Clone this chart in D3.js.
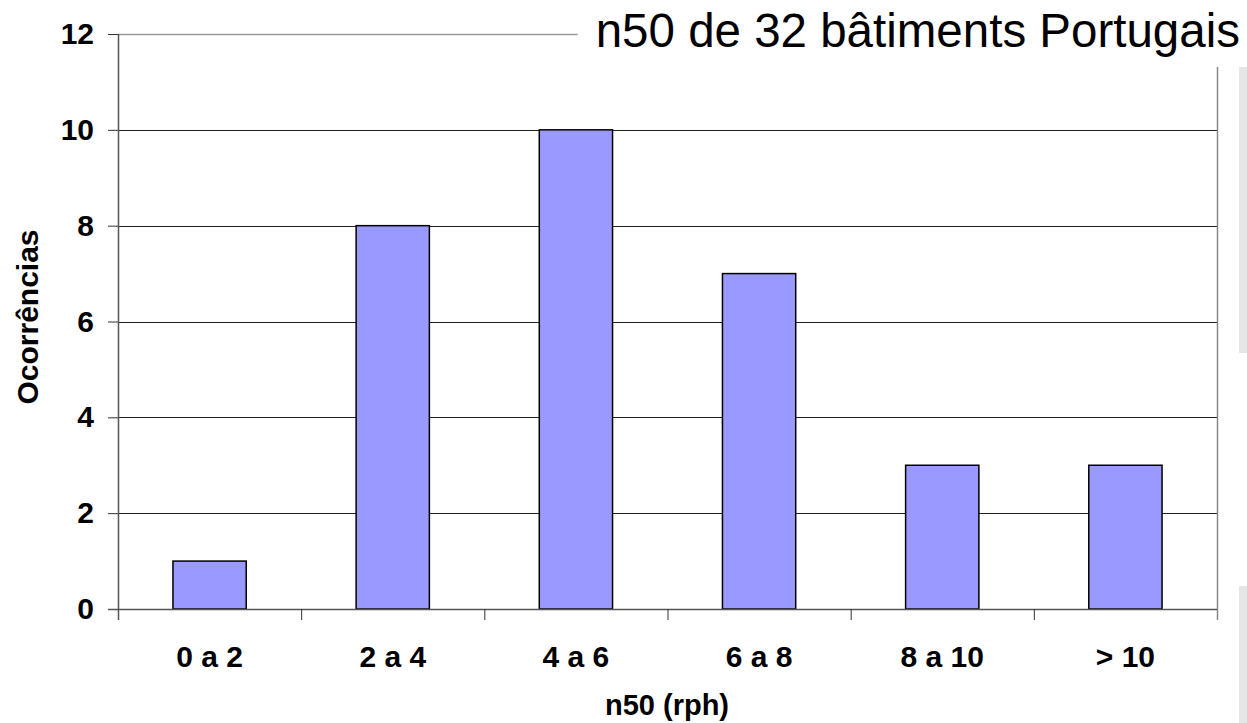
<!DOCTYPE html>
<html>
<head>
<meta charset="utf-8">
<script src="https://cdn.jsdelivr.net/npm/d3@7"></script>
<style>
  html, body { margin: 0; padding: 0; background: #fff; }
  svg { display: block; font-family: "Liberation Sans", Arial, sans-serif; }
</style>
</head>
<body>
<svg id="chart" width="1247" height="723"></svg>
<script>
// Airtightness (n50) distribution of 32 Portuguese buildings
const categories = ["0 a 2", "2 a 4", "4 a 6", "6 a 8", "8 a 10", "> 10"];
const occurrences = [1, 8, 10, 7, 3, 3];
const yTicks = [0, 2, 4, 6, 8, 10, 12];
const titleText = "n50 de 32 bâtiments Portugais";
const xTitle = "n50 (rph)";
const yTitle = "Ocorrências";

const svg = d3.select("#chart");
const plot = { left: 118, right: 1217, top: 34, bottom: 609 };

const x = d3.scaleBand()
  .domain(categories)
  .range([plot.left, plot.right])
  .paddingInner(0.6)
  .paddingOuter(0.3);

const y = d3.scaleLinear()
  .domain([0, 12])
  .range([plot.bottom, plot.top]);

// side panels at the right edge
svg.append("rect").attr("x", 1239).attr("y", 67).attr("width", 8).attr("height", 286).attr("fill", "#e6e6e6");
svg.append("rect").attr("x", 1239).attr("y", 586).attr("width", 8).attr("height", 137).attr("fill", "#e6e6e6");

// horizontal gridlines
svg.append("g").selectAll("line")
  .data(yTicks.filter(d => d > 0 && d < 12))
  .join("line")
  .attr("x1", plot.left).attr("x2", plot.right)
  .attr("y1", d => Math.round(y(d)) + 0.5).attr("y2", d => Math.round(y(d)) + 0.5)
  .attr("stroke", "#222").attr("stroke-width", 1);

// top gridline (12)
svg.append("line")
  .attr("x1", plot.left).attr("x2", plot.right)
  .attr("y1", Math.round(y(12)) + 0.5).attr("y2", Math.round(y(12)) + 0.5)
  .attr("stroke", "#999").attr("stroke-width", 1.5);

// right frame line
svg.append("line")
  .attr("x1", plot.right + 0.5).attr("x2", plot.right + 0.5)
  .attr("y1", 67).attr("y2", 620)
  .attr("stroke", "#888").attr("stroke-width", 1.5);

// bars
svg.append("g").selectAll("rect")
  .data(occurrences)
  .join("rect")
  .attr("x", (d, i) => x(categories[i]))
  .attr("y", d => y(d))
  .attr("width", x.bandwidth())
  .attr("height", d => y(0) - y(d))
  .attr("fill", "#9999ff")
  .attr("stroke", "#000")
  .attr("stroke-width", 1.5);

// y axis
const yAxis = d3.axisLeft(y).tickValues(yTicks).tickSize(10).tickPadding(14).tickFormat(d3.format("d"));
const gy = svg.append("g").attr("transform", `translate(${plot.left},0)`).call(yAxis);
gy.select(".domain").remove();
gy.selectAll(".tick line").attr("stroke", "#333");
gy.selectAll(".tick text").attr("font-size", 30).attr("font-weight", "bold").attr("fill", "#000")
  .attr("font-family", "Liberation Sans, Arial, sans-serif");
svg.append("line")
  .attr("x1", plot.left + 0.5).attr("x2", plot.left + 0.5)
  .attr("y1", plot.top).attr("y2", 620)
  .attr("stroke", "#555").attr("stroke-width", 1.5);

// x axis baseline and category separators
svg.append("line")
  .attr("x1", 108).attr("x2", plot.right)
  .attr("y1", plot.bottom + 0.5).attr("y2", plot.bottom + 0.5)
  .attr("stroke", "#555").attr("stroke-width", 1.5);
const step = x.step();
svg.append("g").selectAll("line")
  .data(d3.range(1, categories.length))
  .join("line")
  .attr("x1", i => x(categories[i]) - step * 0.3 + 0.5)
  .attr("x2", i => x(categories[i]) - step * 0.3 + 0.5)
  .attr("y1", plot.bottom).attr("y2", 620)
  .attr("stroke", "#333").attr("stroke-width", 1);

// category labels
svg.append("g").selectAll("text")
  .data(categories)
  .join("text")
  .attr("x", d => x(d) + x.bandwidth() / 2)
  .attr("y", 667)
  .attr("text-anchor", "middle")
  .attr("font-size", 30).attr("font-weight", "bold")
  .text(d => d);

// axis titles
svg.append("text")
  .attr("x", 667).attr("y", 715)
  .attr("text-anchor", "middle")
  .attr("font-size", 29).attr("font-weight", "bold")
  .text(xTitle);

svg.append("text")
  .attr("transform", "translate(38,317) rotate(-90)")
  .attr("text-anchor", "middle")
  .attr("font-size", 30).attr("font-weight", "bold")
  .text(yTitle);

// chart title on a white backing
const titleGroup = svg.append("g");
const titleBack = titleGroup.append("rect").attr("fill", "#fff");
const title = titleGroup.append("text")
  .attr("x", 1240).attr("y", 47)
  .attr("text-anchor", "end")
  .attr("font-size", 47.5)
  .attr("fill", "#000")
  .text(titleText);
const bb = title.node().getBBox();
titleBack
  .attr("x", bb.x - 18).attr("y", 0)
  .attr("width", 1247 - (bb.x - 18)).attr("height", 66);
</script>
</body>
</html>
